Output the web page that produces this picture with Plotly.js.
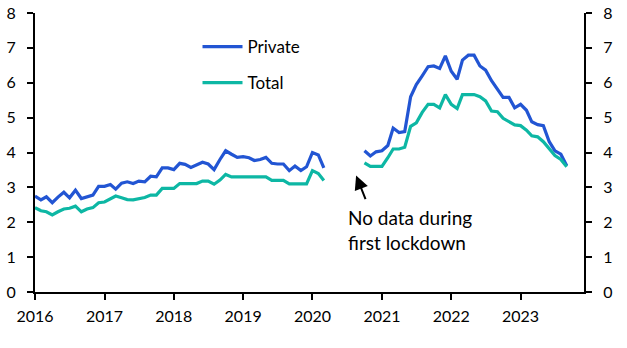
<!DOCTYPE html>
<html>
<head>
<meta charset="utf-8">
<script src="https://cdn.plot.ly/plotly-3.0.1.min.js"></script>
<style>html,body{margin:0;padding:0;background:#fff;}#chart{width:627px;height:348px;}</style>
</head>
<body>
<div id="chart"></div>
<script>
// Monthly data, first segment Jan 2016 - Mar 2020, second segment Oct 2020 - Sep 2023
const startYear = 2016, startMonth = 1;
const privateSeg1 = [2.75, 2.64, 2.73, 2.56, 2.72, 2.86, 2.70, 2.92, 2.68, 2.72, 2.78, 3.03,
  3.03, 3.08, 2.95, 3.12, 3.16, 3.11, 3.18, 3.16, 3.32, 3.30, 3.56, 3.56,
  3.51, 3.69, 3.66, 3.57, 3.64, 3.72, 3.67, 3.51, 3.80, 4.05, 3.95, 3.86,
  3.88, 3.85, 3.77, 3.80, 3.86, 3.69, 3.67, 3.67, 3.48, 3.61, 3.48, 3.59,
  4.00, 3.93, 3.56];
const totalSeg1 = [2.42, 2.33, 2.30, 2.21, 2.30, 2.38, 2.40, 2.46, 2.30, 2.38, 2.42, 2.56,
  2.58, 2.68, 2.75, 2.70, 2.65, 2.64, 2.68, 2.71, 2.78, 2.78, 2.97, 2.97,
  2.97, 3.11, 3.11, 3.11, 3.11, 3.18, 3.18, 3.09, 3.21, 3.37, 3.30, 3.30,
  3.30, 3.30, 3.30, 3.30, 3.30, 3.20, 3.20, 3.20, 3.10, 3.10, 3.10, 3.10,
  3.48, 3.40, 3.20];
const gapMonths = 6; // Apr - Sep 2020: no data
const privateSeg2 = [4.05, 3.90, 4.02, 4.05, 4.20, 4.70, 4.57, 4.60, 5.60, 5.95, 6.20, 6.46,
  6.48, 6.41, 6.77, 6.33, 6.10, 6.65, 6.79, 6.79, 6.48, 6.36, 6.06, 5.82,
  5.58, 5.58, 5.28, 5.38, 5.21, 4.88, 4.80, 4.77, 4.31, 4.05, 3.95, 3.62];
const totalSeg2 = [3.70, 3.60, 3.60, 3.60, 3.85, 4.10, 4.10, 4.15, 4.75, 4.85, 5.15, 5.38,
  5.38, 5.28, 5.66, 5.38, 5.26, 5.66, 5.66, 5.66, 5.60, 5.48, 5.19, 5.17,
  4.98, 4.88, 4.79, 4.77, 4.64, 4.48, 4.45, 4.31, 4.12, 3.91, 3.80, 3.59];
const seriesNames = ["Private", "Total"];
const yTicks = [0, 1, 2, 3, 4, 5, 6, 7, 8];
const annotationText = "No data during<br>first lockdown";

const gap = new Array(gapMonths).fill(null);
const privateVals = privateSeg1.concat(gap, privateSeg2);
const totalVals = totalSeg1.concat(gap, totalSeg2);
const dates = privateVals.map((_, i) => {
  const m = startMonth - 1 + i;
  const y = startYear + Math.floor(m / 12);
  const mm = (m % 12) + 1;
  return y + "-" + String(mm).padStart(2, "0") + "-01";
});

const FONT = "Lato, 'Open Sans', sans-serif";
const blue = "#2255D3", teal = "#0DB7A4";

const traces = [
  {x: dates, y: privateVals, name: seriesNames[0], type: "scatter", mode: "lines",
   line: {color: blue, width: 3.2}, connectgaps: false, legend: "legend"},
  {x: dates, y: totalVals, name: seriesNames[1], type: "scatter", mode: "lines",
   line: {color: teal, width: 3.2}, connectgaps: false, legend: "legend2"},
  {x: [dates[0]], y: [null], yaxis: "y2", showlegend: false, hoverinfo: "skip", mode: "lines"}
];

const axisCommon = {
  range: [0, 8], tickvals: yTicks, ticks: "outside", ticklen: 6, tickwidth: 2,
  tickcolor: "#000", showline: true, linecolor: "#000", linewidth: 2, ticklabelstandoff: 8,
  showgrid: false, zeroline: false, tickfont: {family: FONT, size: 16, color: "#000"}
};

const legendCommon = {xanchor: "left", yanchor: "middle", bgcolor: "rgba(0,0,0,0)", itemwidth: 40,
  font: {family: FONT, size: 17, color: "#000"}};

const layout = {
  width: 627, height: 348,
  margin: {l: 35, r: 43, t: 13, b: 56},
  paper_bgcolor: "#fff", plot_bgcolor: "#fff",
  font: {family: FONT, size: 16, color: "#000"},
  xaxis: {
    type: "date", range: ["2016-01-01", "2023-12-01"],
    tick0: "2016-01-01", dtick: "M12", tickformat: "%Y",
    ticks: "outside", ticklen: 6, tickwidth: 2, tickcolor: "#000", ticklabelstandoff: 3,
    showline: true, linecolor: "#000", linewidth: 2, showgrid: false, zeroline: false,
    tickfont: {family: FONT, size: 16, color: "#000"}
  },
  yaxis: Object.assign({side: "left"}, axisCommon),
  yaxis2: Object.assign({side: "right", overlaying: "y"}, axisCommon),
  legend: Object.assign({x: 0.296, y: 0.878}, legendCommon),
  legend2: Object.assign({x: 0.296, y: 0.749}, legendCommon),
  showlegend: true,
  annotations: [
    {xref: "paper", yref: "paper", x: 0.566, y: 0.317, xanchor: "left", yanchor: "top",
     text: annotationText, showarrow: false, align: "left",
     font: {family: FONT, size: 19, color: "#000"}},
    {xref: "x", yref: "y", x: "2020-08-18", y: 3.34, text: "", showarrow: true,
     ax: 10, ay: 25, arrowhead: 2, arrowsize: 1.4, arrowwidth: 2, arrowcolor: "#000"}
  ]
};

Plotly.newPlot("chart", traces, layout, {staticPlot: true, displayModeBar: false});
</script>
</body>
</html>
